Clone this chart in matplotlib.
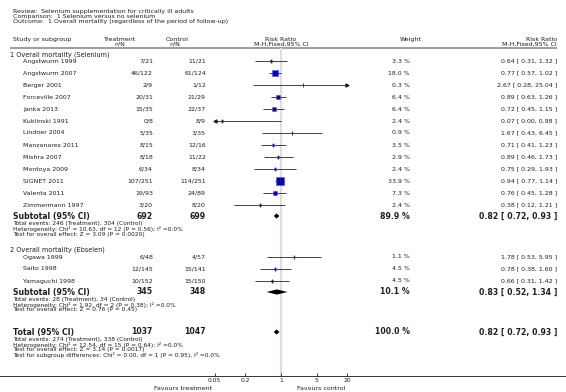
import numpy as np
from matplotlib import pyplot as plt

# subgroup 1: selenium
sel_names = ['Angstwurm 1999', 'Angstwurm 2007', 'Berger 2001', 'Forceville 2007', 'Janka 2013',
             'Kuklinski 1991', 'Lindner 2004', 'Manzanares 2011', 'Mishra 2007', 'Montoya 2009',
             'SIGNET 2011', 'Valenta 2011', 'Zimmermann 1997']
sel_treat = ['7/21', '46/122', '2/9', '20/31', '15/35', '0/8', '5/35', '8/15', '8/18', '6/34',
             '107/251', '19/93', '3/20']
sel_ctrl = ['11/21', '61/124', '1/12', '21/29', '22/37', '8/9', '3/35', '12/16', '11/22', '8/34',
            '114/251', '24/89', '8/20']
sel_weight = [3.3, 18.0, 0.3, 6.4, 6.4, 2.4, 0.9, 3.5, 2.9, 2.4, 33.9, 7.3, 2.4]
sel_rr = [0.64, 0.77, 2.67, 0.89, 0.72, 0.07, 1.67, 0.71, 0.89, 0.75, 0.94, 0.76, 0.38]
sel_lo = [0.31, 0.57, 0.28, 0.63, 0.45, 0.00, 0.43, 0.41, 0.46, 0.29, 0.77, 0.45, 0.12]
sel_hi = [1.32, 1.02, 25.04, 1.26, 1.15, 0.98, 6.45, 1.23, 1.73, 1.93, 1.14, 1.28, 1.21]

# subgroup 2: ebselen
ebs_names = ['Ogawa 1999', 'Saito 1998', 'Yamaguchi 1998']
ebs_treat = ['6/48', '12/145', '10/152']
ebs_ctrl = ['4/57', '15/141', '15/150']
ebs_weight = [1.1, 4.5, 4.5]
ebs_rr = [1.78, 0.78, 0.66]
ebs_lo = [0.53, 0.38, 0.31]
ebs_hi = [5.95, 1.60, 1.42]

# pooled rows: label, treat N, control N, weight, rr, lo, hi
pooled_labels = ['Subtotal (95% CI)', 'Subtotal (95% CI)', 'Total (95% CI)']
pooled_treat = ['692', '345', '1037']
pooled_ctrl = ['699', '348', '1047']
pooled_weight = [89.9, 10.1, 100.0]
pooled_rr = [0.82, 0.83, 0.82]
pooled_lo = [0.72, 0.52, 0.72]
pooled_hi = [0.93, 1.34, 0.93]

footnotes = [
    ['Total events: 246 (Treatment), 304 (Control)',
     'Heterogeneity: Chi\u00b2 = 10.63, df = 12 (P = 0.56); I\u00b2 =0.0%',
     'Test for overall effect: Z = 3.09 (P = 0.0020)'],
    ['Total events: 28 (Treatment), 34 (Control)',
     'Heterogeneity: Chi\u00b2 = 1.92, df = 2 (P = 0.38); I\u00b2 =0.0%',
     'Test for overall effect: Z = 0.76 (P = 0.45)'],
    ['Total events: 274 (Treatment), 338 (Control)',
     'Heterogeneity: Chi\u00b2 = 12.54, df = 15 (P = 0.64); I\u00b2 =0.0%',
     'Test for overall effect: Z = 3.14 (P = 0.0017)',
     'Test for subgroup differences: Chi\u00b2 = 0.00, df = 1 (P = 0.95), I\u00b2 =0.0%'],
]

ticks = [0.05, 0.2, 1, 5, 20]
XMIN, XMAX = 0.05, 20

W, H = 566, 392
TXT = '#1e1e1e'
X_NAME, X_SUB, X_HEAD = 23, 10, 13
X_TREAT, X_CTRL, X_WT, X_RR = 153, 206, 410, 557
PLOT_L, PLOT_R = 214.6, 347.4
PLOT_TOP, AXIS_Y = 48, 376


def study_rows(fa, ax, y0, names, treat, ctrl, weight, rr, lo, hi):
    for i in range(len(names)):
        y = y0 + 12 * i
        ax.text(X_NAME, y, names[i], fontsize=4.5, va='center', color=TXT)
        ax.text(X_TREAT, y, treat[i], fontsize=4.5, va='center', ha='right', color=TXT)
        ax.text(X_CTRL, y, ctrl[i], fontsize=4.5, va='center', ha='right', color=TXT)
        ax.text(X_WT, y, '%.1f %%' % weight[i], fontsize=4.5, va='center', ha='right', color=TXT)
        ax.text(X_RR, y, '%.2f [ %.2f, %.2f ]' % (rr[i], lo[i], hi[i]),
                fontsize=4.5, va='center', ha='right', color=TXT)

        left = max(lo[i], XMIN)
        right = min(hi[i], XMAX)
        fa.hlines(y, left, right, color='#222222', lw=0.6, zorder=2)
        side = 1.35 * np.sqrt(weight[i]) * 0.72
        fa.plot(rr[i], y, marker='s', ms=side, color='#0000cc', mec='#5555ee', mew=0.4, zorder=3)
        fa.plot(rr[i], y, marker='|', ms=2.4, color='#222222', mew=0.6, zorder=4)
        if lo[i] < XMIN:
            fa.plot(XMIN, y, marker='<', ms=2.2, color='#222222', clip_on=False, zorder=4)
        if hi[i] > XMAX:
            fa.plot(XMAX, y, marker='>', ms=2.2, color='#222222', clip_on=False, zorder=4)


def pooled_row(fa, ax, y, k, notes):
    bold = dict(fontsize=5.6, fontweight='bold', va='center', color=TXT)
    ax.text(X_HEAD, y, pooled_labels[k], **bold)
    ax.text(X_TREAT, y, pooled_treat[k], ha='right', **bold)
    ax.text(X_CTRL, y, pooled_ctrl[k], ha='right', **bold)
    ax.text(X_WT, y, '%.1f %%' % pooled_weight[k], ha='right', **bold)
    ax.text(X_RR, y, '%.2f [ %.2f, %.2f ]' % (pooled_rr[k], pooled_lo[k], pooled_hi[k]),
            ha='right', **bold)
    h = 2.6
    fa.fill([pooled_lo[k], pooled_rr[k], pooled_hi[k], pooled_rr[k]],
            [y, y - h, y, y + h], color='black', lw=0, zorder=3)
    for j, line in enumerate(notes):
        ax.text(X_HEAD, y + 7 + 5.5 * j, line, fontsize=4.2, va='center', color=TXT)


def main():
    plt.rcParams['font.family'] = ['DejaVu Sans']
    fig = plt.figure(figsize=(W / 100, H / 100), dpi=100)

    ax = fig.add_axes([0, 0, 1, 1])
    ax.set_xlim(0, W)
    ax.set_ylim(H, 0)
    ax.axis('off')

    fa = fig.add_axes([PLOT_L / W, 1 - AXIS_Y / H, (PLOT_R - PLOT_L) / W, (AXIS_Y - PLOT_TOP) / H])
    fa.set_xscale('log')
    fa.set_xlim(XMIN, XMAX)
    fa.set_ylim(AXIS_Y, PLOT_TOP)
    fa.patch.set_visible(False)
    for s in fa.spines.values():
        s.set_visible(False)
    fa.set_yticks([])
    fa.set_xticks(ticks)
    fa.set_xticklabels([('%g' % t) for t in ticks])
    fa.minorticks_off()
    fa.tick_params(axis='x', direction='in', length=2.5, width=0.6, labelsize=4.3,
                   pad=1.2, colors=TXT)
    fa.axvline(1, color='#dddddd', lw=1.6, zorder=0)

    # title block
    ax.text(X_HEAD, 11, 'Review:  Selenium supplementation for critically ill adults',
            fontsize=4.5, va='center', color=TXT)
    ax.text(X_HEAD, 16, 'Comparison:  1 Selenium versus no selenium', fontsize=4.5, va='center', color=TXT)
    ax.text(X_HEAD, 21, 'Outcome:  1 Overall mortality (regardless of the period of follow-up)',
            fontsize=4.5, va='center', color=TXT)

    # column headers
    ax.text(X_HEAD, 39, 'Study or subgroup', fontsize=4.5, va='center', color=TXT)
    ax.text(120, 39, 'Treatment', fontsize=4.5, va='center', ha='center', color=TXT)
    ax.text(120, 44, 'n/N', fontsize=4.5, va='center', ha='center', color=TXT)
    ax.text(177, 39, 'Control', fontsize=4.5, va='center', ha='center', color=TXT)
    ax.text(175, 44, 'n/N', fontsize=4.5, va='center', ha='center', color=TXT)
    ax.text(281, 39, 'Risk Ratio', fontsize=4.5, va='center', ha='center', color=TXT)
    ax.text(281, 44, 'M-H,Fixed,95% CI', fontsize=4.5, va='center', ha='center', color=TXT)
    ax.text(411, 39, 'Weight', fontsize=4.5, va='center', ha='center', color=TXT)
    ax.text(X_RR, 39, 'Risk Ratio', fontsize=4.5, va='center', ha='right', color=TXT)
    ax.text(X_RR, 44, 'M-H,Fixed,95% CI', fontsize=4.5, va='center', ha='right', color=TXT)
    ax.plot([10, 557], [48, 48], color='#a0a0a0', lw=1.5, solid_capstyle='butt')

    # subgroup 1
    ax.text(X_SUB, 55, '1 Overall mortality (Selenium)', fontsize=4.7, va='center', color=TXT)
    study_rows(fa, ax, 61, sel_names, sel_treat, sel_ctrl, sel_weight, sel_rr, sel_lo, sel_hi)
    pooled_row(fa, ax, 216, 0, footnotes[0])

    # subgroup 2
    ax.text(X_SUB, 250, '2 Overall mortality (Ebselen)', fontsize=4.7, va='center', color=TXT)
    study_rows(fa, ax, 257, ebs_names, ebs_treat, ebs_ctrl, ebs_weight, ebs_rr, ebs_lo, ebs_hi)
    pooled_row(fa, ax, 292, 1, footnotes[1])

    # overall
    pooled_row(fa, ax, 332, 2, footnotes[2])

    # axis line and favours labels
    ax.plot([0, W], [AXIS_Y, AXIS_Y], color='#333333', lw=0.7)
    ax.text(183, 388, 'Favours treatment', fontsize=4.5, va='center', ha='center', color=TXT)
    ax.text(321, 388, 'Favours control', fontsize=4.5, va='center', ha='center', color=TXT)

    fig.savefig('out.png', dpi=100)


if __name__ == '__main__':
    main()
